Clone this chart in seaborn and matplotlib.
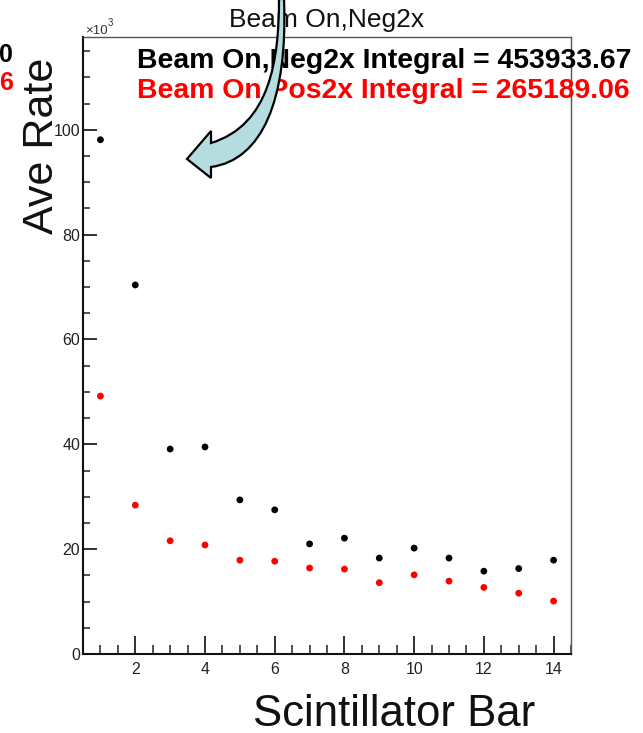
import matplotlib
matplotlib.use("Agg")
import matplotlib.pyplot as plt
from matplotlib.path import Path
from matplotlib.patches import PathPatch
from matplotlib.ticker import MultipleLocator
import pandas as pd
import seaborn as sns

# Average rate per scintillator bar, in units of 10^3
bars = list(range(1, 15))
rate_neg2x = [98.1, 70.4, 39.1, 39.5, 29.4, 27.5, 21.0, 22.1, 18.3, 20.2, 18.3, 15.8, 16.3, 17.9]
rate_pos2x = [49.2, 28.4, 21.6, 20.8, 17.9, 17.7, 16.4, 16.2, 13.6, 15.1, 13.9, 12.7, 11.6, 10.1]
series_names = ["Beam On,Neg2x", "Beam On Pos2x"]
series_colors = ["#000000", "#ff0000"]
integral_labels = ["Beam On,Neg2x Integral = 453933.67",
                   "Beam On Pos2x Integral = 265189.06"]
prev_column_tail = ["0", "6"]
title = "Beam On,Neg2x"
x_label = "Scintillator Bar"
y_label = "Ave Rate"

sns.set_style("white")
plt.rcParams["font.family"] = ["Liberation Sans", "DejaVu Sans"]

W, H = 643, 733
fig = plt.figure(figsize=(W / 100, H / 100), dpi=100)


def fx(x):
    return x / W


def fy(y):
    return 1 - y / H


ax = fig.add_axes([fx(83), fy(654), (571 - 83) / W, (654 - 37) / H])

df = pd.DataFrame({
    "bar": bars * 2,
    "rate": rate_neg2x + rate_pos2x,
    "series": [series_names[0]] * len(bars) + [series_names[1]] * len(bars),
})
sns.scatterplot(data=df, x="bar", y="rate", hue="series",
                palette=dict(zip(series_names, series_colors)),
                s=24, linewidth=0, legend=False, ax=ax, zorder=3)

ax.set_xlim(0.5, 14.5)
ax.set_ylim(0, 117.7)
ax.set_xlabel("")
ax.set_ylabel("")
ax.xaxis.set_major_locator(MultipleLocator(2))
ax.xaxis.set_minor_locator(MultipleLocator(0.5))
ax.yaxis.set_major_locator(MultipleLocator(20))
ax.yaxis.set_minor_locator(MultipleLocator(5))

tick_color = "#222222"
ax.tick_params(which="both", direction="in", bottom=True, left=True, top=False, right=False,
               color=tick_color, labelcolor=tick_color, labelsize=11.5)
ax.tick_params(axis="x", which="major", length=13, width=1.3, pad=6)
ax.tick_params(axis="x", which="minor", length=6.5, width=1.1)
ax.tick_params(axis="y", which="major", length=10, width=1.3, pad=2)
ax.tick_params(axis="y", which="minor", length=5, width=1.1)

for side in ("left", "bottom"):
    ax.spines[side].set_color("#111111")
    ax.spines[side].set_linewidth(1.5)
for side in ("top", "right"):
    ax.spines[side].set_color("#555555")
    ax.spines[side].set_linewidth(1.0)

# Titles and axis labels
fig.text(fx(327), fy(27), title, ha="center", va="baseline", fontsize=19, color="#111111")
fig.text(fx(85), fy(34), "\u00d710", ha="left", va="baseline", fontsize=9.5, color="#333333")
fig.text(fx(108), fy(26), "3", ha="left", va="baseline", fontsize=7, color="#333333")
fig.text(fx(394), fy(726), x_label, ha="center", va="baseline", fontsize=31.5, color="#111111")
fig.text(fx(53), fy(145.5), y_label, rotation=90, rotation_mode="anchor",
         ha="center", va="baseline", fontsize=31, color="#111111")

# Integral annotations
for label, color, base in zip(integral_labels, series_colors, (67.5, 97.5)):
    fig.text(fx(137), fy(base), label, ha="left", va="baseline",
             fontsize=20.4, fontweight="bold", color=color)
for tail, color, base in zip(prev_column_tail, series_colors, (62, 90)):
    fig.text(fx(13), fy(base), tail, ha="right", va="baseline",
             fontsize=18, fontweight="bold", color=color)

# Curved callout arrow
pts = [(279, -1), (279, 60), (270, 125), (211, 143),
       (211, 131), (187, 159), (211, 178), (211, 167),
       (262, 160), (288, 100), (284, -1), (279, -1)]
codes = [Path.MOVETO, Path.CURVE4, Path.CURVE4, Path.CURVE4,
         Path.LINETO, Path.LINETO, Path.LINETO, Path.LINETO,
         Path.CURVE4, Path.CURVE4, Path.CURVE4, Path.CLOSEPOLY]
arrow = Path([(fx(x), fy(y)) for x, y in pts], codes)
fig.patches.append(PathPatch(arrow, transform=fig.transFigure, facecolor="#b5dde1",
                             edgecolor="black", linewidth=1.6, zorder=10))

fig.savefig("out.png", dpi=100)
